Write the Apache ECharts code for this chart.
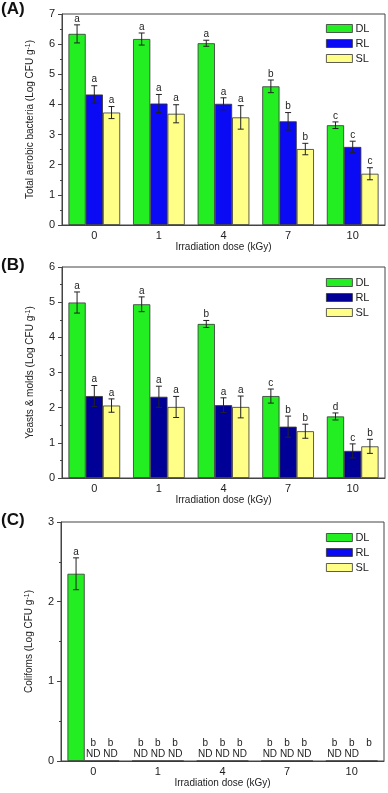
<!DOCTYPE html>
<html>
<head>
<meta charset="utf-8">
<script src="https://cdn.jsdelivr.net/npm/echarts@6/dist/echarts.min.js"></script>
<style>
html,body{margin:0;padding:0;background:#fff;}
#chart{width:388px;height:793px;}
</style>
</head>
<body>
<div id="chart"></div>
<script>
// ---------- data ----------
const categories = ['0', '1', '4', '7', '10'];
const groups = ['DL', 'RL', 'SL'];

// (A) Total aerobic bacteria
const tabDL = [6.34, 6.17, 6.03, 4.60, 3.31];
const tabDLErr = [0.30, 0.20, 0.10, 0.21, 0.11];
const tabDLLetters = ['a', 'a', 'a', 'b', 'c'];
const tabRL = [4.33, 4.03, 4.02, 3.44, 2.59];
const tabRLErr = [0.29, 0.30, 0.20, 0.29, 0.19];
const tabRLLetters = ['a', 'a', 'a', 'b', 'c'];
const tabSL = [3.73, 3.69, 3.57, 2.52, 1.70];
const tabSLErr = [0.20, 0.30, 0.39, 0.19, 0.20];
const tabSLLetters = ['a', 'a', 'a', 'b', 'c'];

// (B) Yeasts & molds
const ymDL = [4.99, 4.94, 4.38, 2.33, 1.75];
const ymDLErr = [0.30, 0.21, 0.10, 0.20, 0.10];
const ymDLLetters = ['a', 'a', 'b', 'c', 'd'];
const ymRL = [2.33, 2.31, 2.07, 1.46, 0.77];
const ymRLErr = [0.30, 0.30, 0.21, 0.30, 0.20];
const ymRLLetters = ['a', 'a', 'a', 'b', 'c'];
const ymSL = [2.06, 2.02, 2.02, 1.33, 0.90];
const ymSLErr = [0.19, 0.30, 0.31, 0.20, 0.20];
const ymSLLetters = ['a', 'a', 'a', 'b', 'b'];

// (C) Coliforms
const colDL = [2.35, 0, 0, 0, 0];
const colDLErr = [0.20, 0, 0, 0, 0];
const colDLLetters = ['a', 'b', 'b', 'b', 'b'];
const colDLND = [false, true, true, true, true];
const colRL = [0, 0, 0, 0, 0];
const colRLErr = [0, 0, 0, 0, 0];
const colRLLetters = ['b', 'b', 'b', 'b', 'b'];
const colRLND = [true, true, true, true, true];
const colSL = [0, 0, 0, 0, 0];
const colSLErr = [0, 0, 0, 0, 0];
const colSLLetters = ['b', 'b', 'b', 'b', 'b'];
const colSLND = [true, true, true, true, false];

const yTicksA = { min: 0, max: 7, interval: 1 };
const yTicksB = { min: 0, max: 6, interval: 1 };
const yTicksC = { min: 0, max: 3, interval: 1 };

const panelLabels = ['(A)', '(B)', '(C)'];
const xName = 'Irradiation dose (kGy)';
const yNames = [
  'Total aerobic bacteria (Log CFU g{sup|-1})',
  'Yeasts & molds (Log CFU g{sup|-1})',
  'Colifoms (Log CFU g{sup|-1})'
];

// ---------- styles ----------
const FONT = '"Liberation Sans", Arial, sans-serif';
const GREEN = '#22ee22';
const BLUE = '#0a0af5';
const NAVY = '#000096';
const YELLOW = '#ffff88';
const EDGE = '#333333';
const AXIS = '#444444';

const panels = [
  { vals: [tabDL, tabRL, tabSL], errs: [tabDLErr, tabRLErr, tabSLErr], letters: [tabDLLetters, tabRLLetters, tabSLLetters], nd: [null, null, null], colors: [GREEN, BLUE, YELLOW], ticks: yTicksA },
  { vals: [ymDL, ymRL, ymSL], errs: [ymDLErr, ymRLErr, ymSLErr], letters: [ymDLLetters, ymRLLetters, ymSLLetters], nd: [null, null, null], colors: [GREEN, NAVY, YELLOW], ticks: yTicksB },
  { vals: [colDL, colRL, colSL], errs: [colDLErr, colRLErr, colSLErr], letters: [colDLLetters, colRLLetters, colSLLetters], nd: [colDLND, colRLND, colSLND], colors: [GREEN, BLUE, YELLOW], ticks: yTicksC }
];

const grids = [
  { left: 62, right: 3, top: 14, height: 211, show: true, borderColor: AXIS, borderWidth: 1 },
  { left: 62, right: 3, top: 267, height: 211, show: true, borderColor: AXIS, borderWidth: 1 },
  { left: 61, right: 4, top: 522, height: 239, show: true, borderColor: AXIS, borderWidth: 1 }
];
const legendTops = [23, 277, 532];
const titleTops = [1, 257, 512];

const xAxes = [], yAxes = [], series = [], legends = [], titles = [];
panels.forEach((p, pi) => {
  xAxes.push({
    type: 'category', gridIndex: pi, data: categories,
    axisLine: { lineStyle: { color: AXIS, width: 1 } },
    axisTick: { show: false },
    axisLabel: { color: '#222', fontSize: 11, fontFamily: FONT, margin: 5 },
    name: xName, nameLocation: 'middle', nameGap: 17,
    nameTextStyle: { color: '#222', fontSize: 10, fontFamily: FONT }
  });
  yAxes.push({
    type: 'value', gridIndex: pi, min: p.ticks.min, max: p.ticks.max, interval: p.ticks.interval,
    axisLine: { show: true, lineStyle: { color: AXIS, width: 1 } },
    axisTick: { show: true, inside: false, length: 4, lineStyle: { color: AXIS } },
    minorTick: { show: true, splitNumber: 2, length: 2, lineStyle: { color: AXIS } },
    splitLine: { show: false },
    axisLabel: { color: '#222', fontSize: 11, fontFamily: FONT, margin: 7 },
    name: yNames[pi], nameLocation: 'middle', nameRotate: 90, nameGap: 27,
    nameTextStyle: {
      color: '#222', fontSize: 10, fontFamily: FONT,
      rich: { sup: { fontSize: 7, fontFamily: FONT, color: '#222', verticalAlign: 'top', lineHeight: 7 } }
    }
  });
  groups.forEach((g, gi) => {
    series.push({
      type: 'bar', name: g, xAxisIndex: pi, yAxisIndex: pi,
      data: p.vals[gi],
      barGap: '0%', barCategoryGap: '20%',
      itemStyle: { color: p.colors[gi], borderColor: EDGE, borderWidth: 0.8 },
      emphasis: { disabled: true },
      z: 2
    });
  });
  groups.forEach((g, gi) => {
    const letters = p.letters[gi];
    const nd = p.nd[gi];
    series.push({
      type: 'custom', name: g + '_err', xAxisIndex: pi, yAxisIndex: pi,
      data: p.vals[gi].map((v, ci) => [ci, v, p.errs[gi][ci]]),
      encode: { x: 0, y: 1 },
      z: 5, silent: true,
      renderItem: function (params, api) {
        const ci = api.value(0), v = api.value(1), e = api.value(2);
        const band = api.size([1, 0])[0];
        const w = band * 0.8 / 3;
        const cx = api.coord([ci, v])[0] + (gi - 1) * w;
        const children = [];
        const zeroY = api.coord([ci, 0])[1];
        const txt = (t, y) => ({ type: 'text', style: { text: t, x: cx, y: y, align: 'center', verticalAlign: 'bottom', fontSize: 10, fontFamily: FONT, fill: '#222' } });
        if (v === 0) {
          if (nd && nd[params.dataIndex]) children.push(txt('ND', zeroY - 2));
          children.push(txt(letters[params.dataIndex], zeroY - 13));
          return { type: 'group', children: children };
        }
        let topY = api.coord([ci, v])[1];
        if (e > 0) {
          topY = api.coord([ci, v + e])[1];
          const botY = api.coord([ci, v - e])[1];
          const ls = { stroke: '#222', lineWidth: 1 };
          children.push({ type: 'line', shape: { x1: cx, y1: topY, x2: cx, y2: botY }, style: ls });
          children.push({ type: 'line', shape: { x1: cx - 3, y1: topY, x2: cx + 3, y2: topY }, style: ls });
          children.push({ type: 'line', shape: { x1: cx - 3, y1: botY, x2: cx + 3, y2: botY }, style: ls });
        }
        children.push(txt(letters[params.dataIndex], topY - 1));
        return { type: 'group', children: children };
      }
    });
  });
  legends.push({
    show: true, orient: 'vertical', left: 326, top: legendTops[pi],
    itemWidth: 26, itemHeight: 8, itemGap: 4, padding: 0, selectedMode: false,
    icon: 'rect',
    textStyle: { color: '#222', fontSize: 11, fontFamily: FONT, padding: [0, 0, 0, -2] },
    data: groups.map((g, gi) => ({ name: g, itemStyle: { color: p.colors[gi], borderColor: EDGE, borderWidth: 0.8 } }))
  });
  titles.push({
    text: panelLabels[pi], left: 1, top: titleTops[pi], padding: 0,
    textStyle: { fontSize: 17, fontWeight: 'bold', fontFamily: FONT, color: '#111' }
  });
});

const chart = echarts.init(document.getElementById('chart'), null, { renderer: 'canvas' });
chart.setOption({
  animation: false,
  backgroundColor: '#ffffff',
  title: titles,
  grid: grids,
  xAxis: xAxes,
  yAxis: yAxes,
  legend: legends,
  series: series
});
</script>
</body>
</html>
